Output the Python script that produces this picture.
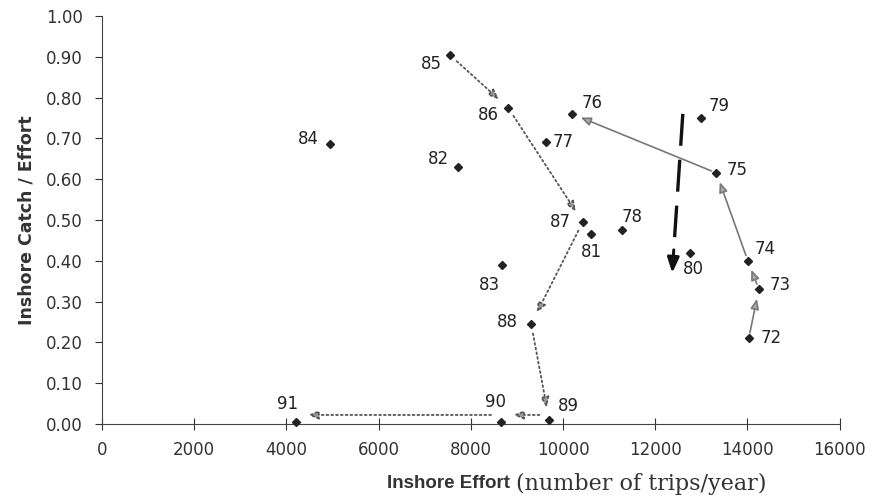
import numpy as np, matplotlib.pyplot as plt

plt.rcParams['font.family'] = ['DejaVu Sans']

# year -> (inshore effort, catch/effort)
years = [72, 73, 74, 75, 76, 77, 78, 79, 80, 81, 82, 83, 84, 85, 86, 87, 88, 89, 90, 91]
effort = [14030, 14250, 14010, 13330, 10190, 9640, 11280, 13000, 12760, 10600,
          7720, 8670, 4950, 7540, 8810, 10430, 9310, 9700, 8650, 4200]
cpue = [0.21, 0.33, 0.40, 0.615, 0.76, 0.69, 0.475, 0.75, 0.42, 0.465,
        0.63, 0.39, 0.685, 0.905, 0.775, 0.495, 0.245, 0.01, 0.005, 0.005]

# label offsets in pixels
lab_off = {72: (22, 0), 73: (21, 4), 74: (17, 12), 75: (21, 3), 76: (20, 11),
           77: (17, 0), 78: (10, 13), 79: (18, 12), 80: (3, -16), 81: (1, -18),
           82: (-19, 8), 83: (-12, -20), 84: (-22, 5), 85: (-18, -9), 86: (-20, -7),
           87: (-22, 0), 88: (-24, 2), 89: (19, 14), 90: (-5, 20), 91: (-8, 18)}

solid_path = [72, 73, 74, 75, 76]
dotted_path = [85, 86, 87, 88, 89, 90, 91]

trend_x = [12600, 12370]
trend_y = [0.76, 0.37]

fig = plt.figure(figsize=(8.77, 4.97), dpi=100)
ax = fig.add_axes([0.1163, 0.147, 0.841, 0.821])

ax.plot(effort, cpue, 'D', color='#222222', ms=4.5, zorder=5, clip_on=False)

for yr, x, y in zip(years, effort, cpue):
    ax.annotate(str(yr), (x, y), xytext=lab_off[yr], textcoords='offset pixels',
                ha='center', va='center', fontsize=12, color='#222222')

idx = {yr: i for i, yr in enumerate(years)}

for a, b in zip(solid_path[:-1], solid_path[1:]):
    ax.annotate('', xy=(effort[idx[b]], cpue[idx[b]]), xytext=(effort[idx[a]], cpue[idx[a]]),
                arrowprops=dict(arrowstyle='-|>,head_length=0.6,head_width=0.25', color='#777777',
                                fc='#aaaaaa', lw=1.2, shrinkA=4, shrinkB=7))

for a, b in zip(dotted_path[:-1], dotted_path[1:]):
    ya, yb = cpue[idx[a]], cpue[idx[b]]
    if a in (89, 90):
        ya, yb = 0.022, 0.022
    ax.annotate('', xy=(effort[idx[b]], yb), xytext=(effort[idx[a]], ya),
                arrowprops=dict(arrowstyle='-|>,head_length=0.6,head_width=0.25', color='#555555',
                                fc='#999999', lw=1.3, linestyle=':', shrinkA=7, shrinkB=9))

# thick dashed trend arrow
def along(f):
    return (trend_x[0] + (trend_x[1] - trend_x[0]) * f,
            trend_y[0] + (trend_y[1] - trend_y[0]) * f)

ex, ey = along(0.775)
ax.plot([trend_x[0], ex], [trend_y[0], ey], color='#111111', lw=2.4,
        linestyle=(0, (9.6, 4.2)), solid_capstyle='butt', dash_capstyle='butt')
sx, sy = along(0.855)
ax.annotate('', xy=(trend_x[1], trend_y[1]), xytext=(sx, sy),
            arrowprops=dict(arrowstyle='-|>,head_length=0.9,head_width=0.35', color='#111111',
                            lw=2.2, shrinkA=0, shrinkB=0))

ax.set_xlim(0, 16000)
ax.set_ylim(0, 1.0)
ax.set_xticks(np.arange(0, 16001, 2000))
ax.set_yticks(np.arange(0, 1.01, 0.1))
ax.set_yticklabels(['%.2f' % v for v in np.arange(0, 1.01, 0.1)])
ax.tick_params(axis='both', labelsize=12, colors='#333333', length=5)
ax.tick_params(axis='y', pad=9)
ax.tick_params(axis='x', direction='inout', length=8, pad=8)
ax.spines['top'].set_visible(False)
ax.spines['right'].set_visible(False)
for s in ('left', 'bottom'):
    ax.spines[s].set_color('#444444')

ax.set_ylabel('Inshore Catch / Effort', fontsize=12.5, fontweight='bold', color='#333333', labelpad=7)
fig.text(0.581, 0.028, 'Inshore Effort', ha='right', va='center', fontsize=13.5,
         fontweight='bold', color='#333333', family='Liberation Sans')
fig.text(0.588, 0.026, '(number of trips/year)', ha='left', va='center', fontsize=16,
         family='DejaVu Serif', color='#333333')

fig.savefig('out.png', dpi=100)
